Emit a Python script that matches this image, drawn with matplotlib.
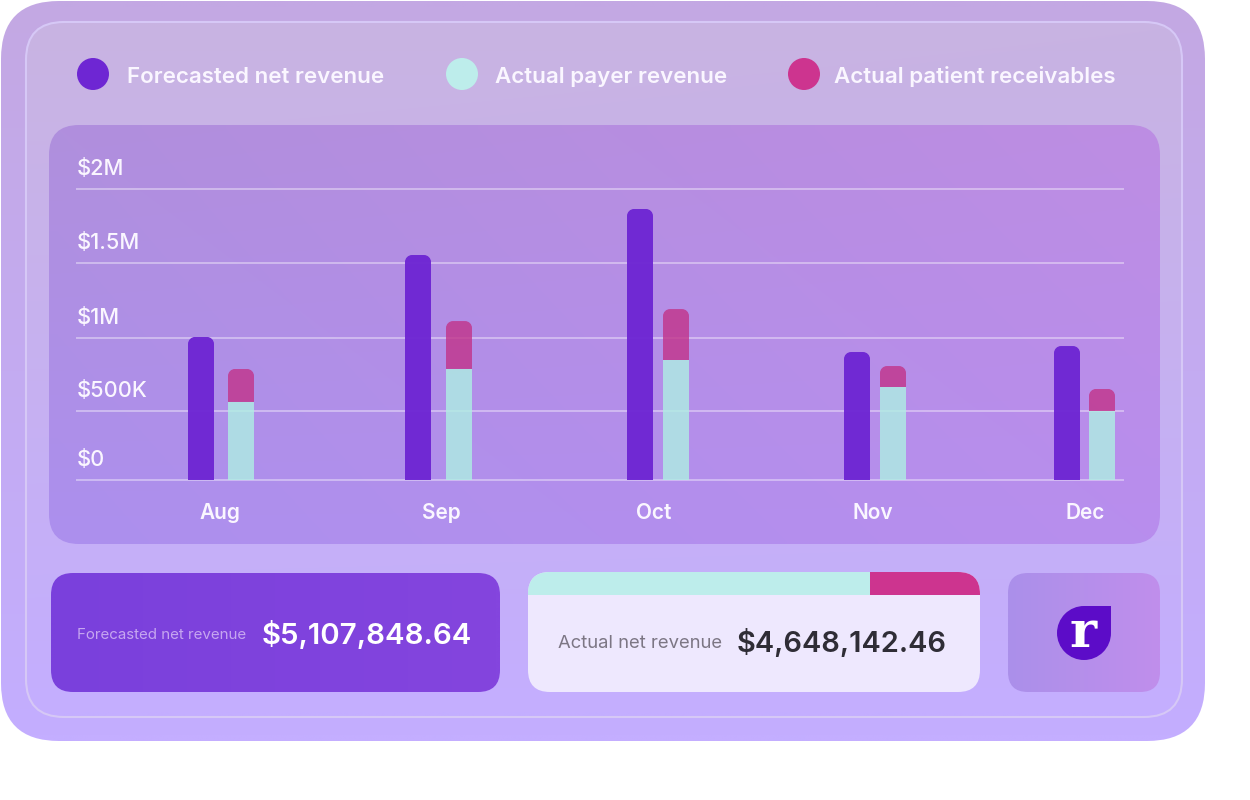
import numpy as np
import matplotlib
matplotlib.use('Agg')
import matplotlib.pyplot as plt
from matplotlib.colors import to_rgb
from matplotlib.patches import FancyBboxPatch, Circle, Rectangle
from matplotlib.path import Path
from matplotlib.transforms import IdentityTransform

# data
months = ['Aug', 'Sep', 'Oct', 'Nov', 'Dec']
forecast = [1007000, 1554000, 1865000, 904000, 945000]
payer = [562000, 788000, 849000, 664000, 500000]
patient = [226000, 325000, 344000, 144000, 151000]
tick_values = [0, 500000, 1000000, 1500000, 2000000]
tick_labels = ['$0', '$500K', '$1M', '$1.5M', '$2M']
legend_labels = ['Forecasted net revenue', 'Actual payer revenue', 'Actual patient receivables']
forecast_total = '$5,107,848.64'
actual_total = '$4,648,142.46'
payer_share = 0.757

# layout, in reference pixels
W, H = 1250, 800
forecast_x = [201, 418, 640, 857, 1067]
actual_x = [241, 459, 676, 893, 1102]
month_x = [220, 441, 654, 873, 1085]
tick_y = [480, 411, 338, 263, 189]

PURPLE = '#6E26D3'
TEAL = '#BDEDEB'
MAGENTA = '#CD348F'
LABEL = '#FAF6FF'

plt.rcParams['font.family'] = ['Inter', 'DejaVu Sans']

fig = plt.figure(figsize=(W / 100, H / 100), dpi=100, facecolor='white')
bg = fig.add_axes([0, 0, 1, 1])
bg.set_xlim(0, W)
bg.set_ylim(H, 0)
bg.axis('off')


def rounded(x0, y0, x1, y1, r, **kw):
    return FancyBboxPatch((x0 + r, y0 + r), x1 - x0 - 2 * r, y1 - y0 - 2 * r,
                          boxstyle=f'round,pad={r},rounding_size={r}', **kw)


def gradient_box(x0, y0, x1, y1, r, tl, tr, bl, br, z):
    # bilinear gradient from four corner colours, clipped to a rounded box
    tl, tr, bl, br = [np.array(to_rgb(c)) for c in (tl, tr, bl, br)]
    u, v = np.meshgrid(np.linspace(0, 1, 64), np.linspace(0, 1, 64))
    u, v = u[..., None], v[..., None]
    img = (1 - v) * ((1 - u) * tl + u * tr) + v * ((1 - u) * bl + u * br)
    im = bg.imshow(img, extent=(x0, x1, y1, y0), aspect='auto', zorder=z, interpolation='bilinear')
    box = rounded(x0, y0, x1, y1, r, transform=bg.transData, facecolor='none', edgecolor='none')
    bg.add_patch(box)
    im.set_clip_path(box)
    bg.set_xlim(0, W)
    bg.set_ylim(H, 0)


# outer and inner panels
gradient_box(1, 1, 1205, 741, 58, '#C3A8E3', '#C3A8E3', '#C4AEFF', '#C4AEFF', 1)
gradient_box(26, 22, 1182, 717, 38, '#C9B4E2', '#C8B3E2', '#C4AEFF', '#C4AEFF', 2)
bg.add_patch(rounded(26, 22, 1182, 717, 38, facecolor='none', edgecolor='#D6C8F6', lw=1.5, zorder=3))

# chart panel
gradient_box(49, 125, 1160, 544, 30, '#B08FDD', '#BD8DE3', '#AC90EE', '#B88EEE', 4)

# legend
legend_dot = [93, 462, 804]
legend_text = [127, 495, 834]
for dot, tx, label, color in zip(legend_dot, legend_text, legend_labels, [PURPLE, TEAL, MAGENTA]):
    bg.add_patch(Circle((dot, 74), 16, facecolor=color, edgecolor='none', zorder=5))
    bg.text(tx, 83, label, color=LABEL, fontsize=16.1, fontweight='semibold', va='baseline', ha='left', zorder=5)

# bottom cards
gradient_box(51, 573, 500, 692, 22, '#7A40DC', '#8445DE', '#7A40DC', '#8445DE', 4)
bg.text(77, 639, 'Forecasted net revenue', color='#C6A6F0', fontsize=10.9, va='baseline', ha='left', zorder=5)
bg.text(262, 644, forecast_total, color='white', fontsize=21.2, fontweight='semibold', va='baseline', ha='left', zorder=5)

card = rounded(528, 572, 980, 692, 22, facecolor='#EEE8FE', edgecolor='none', zorder=4)
bg.add_patch(card)
split = 528 + (980 - 528) * payer_share
for x0, x1, color in [(528, split, TEAL), (split, 980, MAGENTA)]:
    band = Rectangle((x0, 572), x1 - x0, 23, facecolor=color, edgecolor='none', zorder=5)
    bg.add_patch(band)
    band.set_clip_path(card)
bg.text(558, 648, 'Actual net revenue', color='#7C7684', fontsize=13.3, va='baseline', ha='left', zorder=6)
bg.text(737, 652, actual_total, color='#2F2D36', fontsize=20.9, fontweight='semibold', va='baseline', ha='left', zorder=6)

# logo card
gradient_box(1008, 573, 1160, 692, 20, '#AB90EA', '#C08EEC', '#AB90EA', '#C08EEC', 4)
bg.add_patch(Circle((1084, 633), 27, facecolor='#5C0CC8', edgecolor='none', zorder=5))
bg.add_patch(Rectangle((1084, 606), 27, 27, facecolor='#5C0CC8', edgecolor='none', zorder=5))
bg.text(1083, 647, 'r', color='white', fontsize=37, fontweight='bold', family='DejaVu Serif',
        va='baseline', ha='center', zorder=6)

# chart axes: x in reference pixels, y on a scale fitted to the drawn gridlines
ax = fig.add_axes([76 / W, 1 - 480 / H, (1124 - 76) / W, (480 - 189) / H])
ax.patch.set_alpha(0)
ax.set_zorder(5)


def forward(v):
    return np.interp(v, tick_values, 480 - np.array(tick_y), left=-1, right=292)


def inverse(p):
    return np.interp(p, 480 - np.array(tick_y), tick_values)


ax.set_yscale('function', functions=(forward, inverse))
ax.set_xlim(76, 1124)
ax.set_ylim(0, 2000000)
for s in ax.spines.values():
    s.set_visible(False)

ax.set_axisbelow(True)
ax.grid(axis='y', color='white', alpha=0.42, lw=1.3, clip_on=False, solid_capstyle='butt')
ax.set_yticks(tick_values)
ax.set_yticklabels([])
ax.tick_params(axis='y', length=0)
ax.yaxis.set_minor_locator(plt.NullLocator())
ax.set_xticks(month_x)
ax.set_xticklabels(months, color=LABEL, fontsize=15, fontweight='semibold')
ax.tick_params(axis='x', length=0, pad=16.3)
for gl in ax.get_ygridlines():
    gl.set_clip_on(False)

for v, label in zip(tick_values, tick_labels):
    ax.annotate(label, xy=(77, v), xytext=(0, 14.4), textcoords='offset points', color=LABEL,
                fontsize=15.7, fontweight='medium', va='center', ha='left', annotation_clip=False)

bar_w = 26
forecast_bars = ax.bar(forecast_x, forecast, width=bar_w, color=PURPLE, alpha=0.97, zorder=3)
payer_bars = ax.bar(actual_x, payer, width=bar_w, color='#AEEFE3', alpha=0.8, zorder=3)
patient_bars = ax.bar(actual_x, patient, bottom=payer, width=bar_w, color='#C23389', alpha=0.8, zorder=3)

# round only the top corners of the bars
fig.canvas.draw()
for bar in list(forecast_bars) + list(patient_bars):
    ext = bar.get_window_extent()
    r = 7
    x0, x1, y0, y1 = ext.x0, ext.x1, ext.y0, ext.y1
    k = 0.45 * r
    verts = [(x0, y0), (x0, y1 - r), (x0, y1 - k), (x0 + k, y1), (x0 + r, y1), (x1 - r, y1),
             (x1 - k, y1), (x1, y1 - k), (x1, y1 - r), (x1, y0), (x0, y0)]
    codes = [Path.MOVETO, Path.LINETO, Path.CURVE4, Path.CURVE4, Path.CURVE4, Path.LINETO,
             Path.CURVE4, Path.CURVE4, Path.CURVE4, Path.LINETO, Path.CLOSEPOLY]
    bar.set_clip_path(Path(verts, codes), IdentityTransform())

fig.savefig('out.png', dpi=100)
